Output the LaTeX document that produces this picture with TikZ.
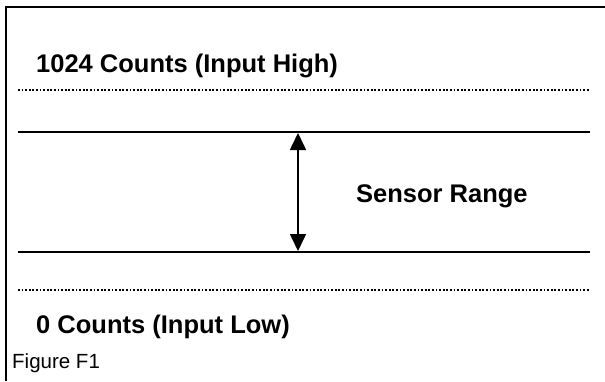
\documentclass[tikz,border=0pt]{standalone}
\usepackage{fontspec}
\setmainfont{Liberation Sans}
\usetikzlibrary{arrows.meta}
\begin{document}
\begin{tikzpicture}[x=1pt,y=-1pt,
  frameline/.style={line width=2.3pt},
  levelline/.style={line width=2.3pt},
  dotline/.style={line width=1.8pt, dash pattern=on 1.8pt off 1.8pt},
  biglabel/.style={anchor=base west, inner sep=0pt, font=\fontsize{25.5}{30}\selectfont\bfseries},
  caption/.style={anchor=base west, inner sep=0pt, font=\fontsize{20.5}{25}\selectfont},
  rangearrow/.style={line width=1.6pt, {Triangle[width=16pt,length=17pt]}-{Triangle[width=16pt,length=17pt]}}]
\useasboundingbox (0,0) rectangle (605,381);
% frame
\coordinate (fbl) at (6,381);
\coordinate (ftl) at (6,7);
\coordinate (ftr) at (605,7);
\draw[frameline] (fbl) -- (ftl) -- (ftr);
% dotted limits
\coordinate (hiL) at (18,90);
\coordinate (hiR) at (590,90);
\coordinate (loL) at (18,290);
\coordinate (loR) at (590,290);
\draw[dotline] (hiL) -- (hiR);
\draw[dotline] (loL) -- (loR);
% sensor range lines
\coordinate (sTL) at (18,132);
\coordinate (sTR) at (590,132);
\coordinate (sBL) at (18,252);
\coordinate (sBR) at (590,252);
\draw[levelline] (sTL) -- (sTR);
\draw[levelline] (sBL) -- (sBR);
% arrow
\coordinate (aTop) at (298,133);
\coordinate (aBot) at (298,251);
\draw[rangearrow] (aTop) -- (aBot);
% labels
\node[biglabel] (high) at (36,72) {1024 Counts (Input High)};
\node[biglabel] (range) at (356,202) {Sensor Range};
\node[biglabel] (low) at (36,333) {0 Counts (Input Low)};
\node[caption] (fig) at (12,368) {Figure F1};
\end{tikzpicture}
\end{document}
